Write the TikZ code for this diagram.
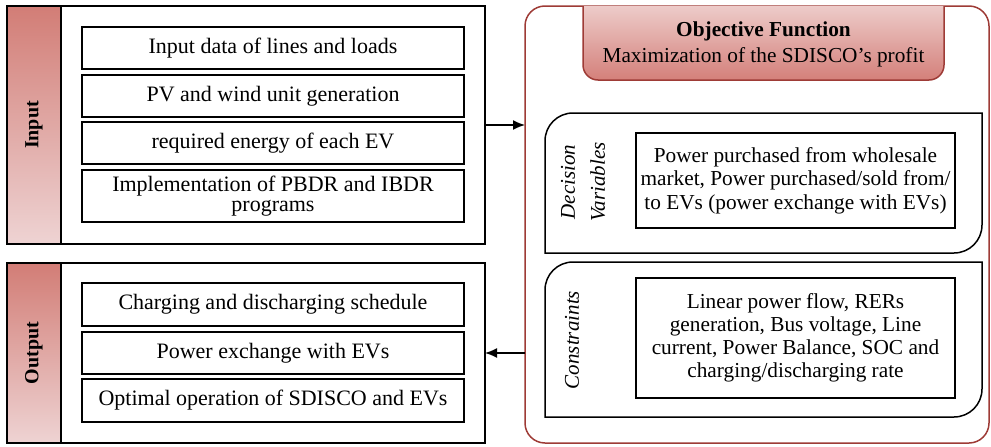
\documentclass[tikz,border=0pt]{standalone}
\usepackage{fontspec}
\setmainfont{Liberation Serif}
\usetikzlibrary{arrows.meta}
\definecolor{bandtop}{HTML}{D27D76}
\definecolor{bandbot}{HTML}{EED3D3}
\definecolor{headtop}{HTML}{EDCBC9}
\definecolor{headbot}{HTML}{D4807A}
\definecolor{framered}{HTML}{9E3B36}
\begin{document}
\begin{tikzpicture}[x=1pt,y=-1pt,
  every node/.style={inner sep=0pt,outer sep=0pt},
  txt/.style={font=\fontsize{22}{20}\selectfont,align=center},
  outerbox/.style={draw,line width=1.5pt,minimum width=478pt},
  band/.style={draw,line width=1.5pt,minimum width=54pt,top color=bandtop,bottom color=bandbot},
  itembox/.style={draw,line width=1.5pt,minimum width=382pt,txt},
  sidelabel/.style={rotate=90,font=\fontsize{20}{22}\selectfont\bfseries},
  panel/.style={draw,line width=1.5pt},
  italabel/.style={rotate=90,font=\fontsize{21}{30}\selectfont\itshape,align=center},
  flow/.style={line width=1.5pt,-{Latex[length=12pt,width=10pt]}}]
\useasboundingbox (0,0) rectangle (991,447);

% ---- Input block ----
\node[outerbox,minimum height=238pt] (inbox) at (246,125) {};
\node[band,minimum height=238pt] (inband) at (34,125) {};
\node[sidelabel] (inlab) at (34,125) {Input};
\node[itembox,minimum height=42pt] (in1) at (273,48) {Input data of lines and loads};
\node[itembox,minimum height=42pt] (in2) at (273,96) {PV and wind unit generation};
\node[itembox,minimum height=42pt] (in3) at (273,143) {required energy of each EV};
\node[itembox,minimum height=52pt] (in4) at (273,196) {Implementation of PBDR and IBDR\\programs};

% ---- Output block ----
\node[outerbox,minimum height=180pt] (outbox) at (246,353) {};
\node[band,minimum height=180pt] (outband) at (34,353) {};
\node[sidelabel] (outlab) at (34,353) {Output};
\node[itembox,minimum height=43pt] (out1) at (273,304.5) {Charging and discharging schedule};
\node[itembox,minimum height=42pt] (out2) at (273,353) {Power exchange with EVs};
\node[itembox,minimum height=43pt] (out3) at (273,400.5) {Optimal operation of SDISCO and EVs};

% ---- Optimisation model ----
\node[draw=framered,line width=1.5pt,rounded corners=20pt,
      minimum width=464pt,minimum height=437pt] (opt) at (757,224.5) {};

% objective function header (rounded lower corners)
\draw[framered,line width=1.5pt,top color=headtop,bottom color=headbot,rounded corners=15pt]
  (583,6) -- (583,80) -- (944,80) -- (944,6);
\node[txt,font=\fontsize{21.3}{26}\selectfont] (obj) at (763.5,44)
  {\textbf{Objective Function}\\Maximization of the SDISCO’s profit};

% decision variables panel
\draw[panel] (545,253) -- (545,141)
  .. controls (545,125.5) and (557.5,113) .. (573,113)
  -- (982,113) -- (982,225)
  .. controls (982,240.5) and (969.5,253) .. (954,253) -- cycle;
\node[italabel] (dvlab) at (583,182) {Decision\\Variables};
\node[draw,line width=1.5pt,minimum width=319pt,minimum height=95pt,
      txt,font=\fontsize{21.3}{23.5}\selectfont] (dv) at (795.5,180.5)
  {Power purchased from wholesale\\market, Power purchased/sold from/\\to EVs (power exchange with EVs)};

% constraints panel
\draw[panel] (545,417) -- (545,290)
  .. controls (545,274.5) and (557.5,262) .. (573,262)
  -- (982,262) -- (982,389)
  .. controls (982,404.5) and (969.5,417) .. (954,417) -- cycle;
\node[italabel] (cslab) at (572,340) {Constraints};
\node[draw,line width=1.5pt,minimum width=319pt,minimum height=120pt,
      txt,font=\fontsize{21.3}{23}\selectfont] (cs) at (795.5,338)
  {Linear power flow, RERs\\generation, Bus voltage, Line\\current, Power Balance, SOC and\\charging/discharging rate};

% ---- connectors ----
\draw[flow] (inbox.east) -- (inbox.east -| opt.west);
\draw[flow] (outbox.east -| opt.west) -- (outbox.east);
\end{tikzpicture}
\end{document}
